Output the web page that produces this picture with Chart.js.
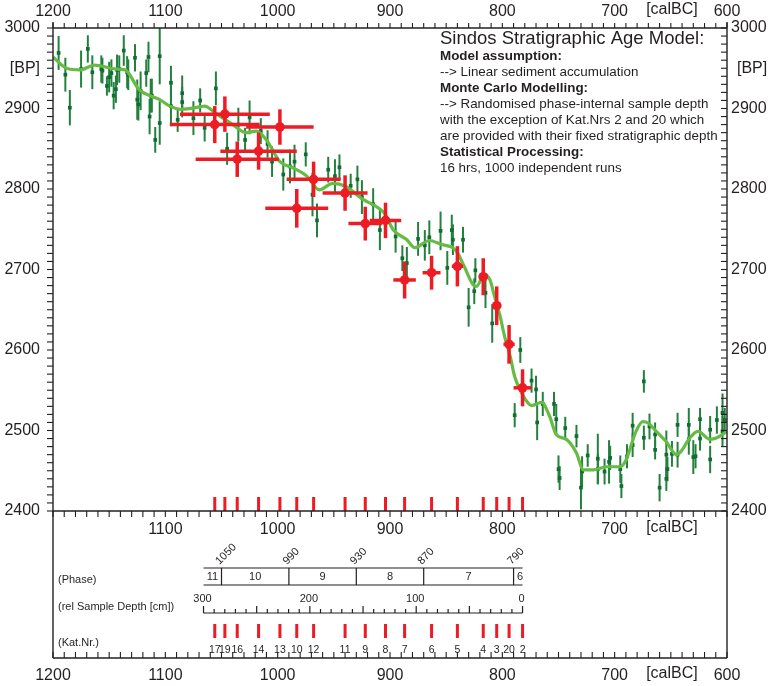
<!DOCTYPE html>
<html>
<head>
<meta charset="utf-8">
<script src="https://cdn.jsdelivr.net/npm/chart.js@4"></script>
<style>
  body { margin: 0; background: #fff; }
  canvas { display: block; }
</style>
</head>
<body>
<canvas id="ageChart" width="770" height="686"></canvas>
<script>
// Radiocarbon samples (green): calBC year, BP value, 1-sigma BP
const greenYears = [1195, 1189, 1185, 1175, 1169, 1165, 1157, 1156, 1152, 1150,
  1148, 1146, 1144, 1143, 1141, 1137, 1134, 1133, 1127, 1125,
  1124, 1122, 1117, 1115, 1114, 1113, 1112, 1109, 1105, 1105,
  1095, 1095, 1089, 1085, 1085, 1075, 1069, 1065, 1055, 1045,
  1035, 1029, 1025, 1015, 1009, 1005, 995, 989, 985, 975,
  969, 965, 955, 949, 945, 935, 929, 925, 915, 909,
  895, 889, 885, 875, 869, 865, 855, 849, 845, 844,
  835, 830, 825, 824, 815, 809, 789, 784, 774, 770,
  769, 764, 754, 752, 750, 749, 744, 734, 730, 729,
  724, 715, 715, 709, 705, 704, 694, 695, 689, 684,
  684, 674, 674, 669, 664, 664, 660, 654, 654, 653,
  649, 644, 644, 634, 634, 630, 628, 624, 624, 615,
  615, 609, 604, 604, 602];
const greenBP = [2969, 2942, 2901, 2949, 2974, 2945, 2949, 2947, 2928, 2939,
  2944, 2916, 2924, 2948, 2949, 2972, 2945, 2942, 2963, 2911,
  2905, 2922, 2944, 2964, 2890, 2916, 2916, 2861, 2965, 2882,
  2932, 2903, 2886, 2919, 2908, 2888, 2910, 2876, 2925, 2850,
  2880, 2861, 2889, 2872, 2856, 2834, 2818, 2828, 2834, 2843,
  2793, 2761, 2824, 2816, 2827, 2804, 2812, 2790, 2781, 2749,
  2741, 2714, 2708, 2738, 2730, 2740, 2748, 2702, 2749, 2737,
  2737, 2653, 2673, 2699, 2671, 2633, 2519, 2600, 2562, 2551,
  2510, 2533, 2533, 2514, 2452, 2441, 2503, 2493, 2429, 2449,
  2469, 2465, 2452, 2449, 2461, 2466, 2431, 2452, 2468, 2506,
  2482, 2561, 2491, 2505, 2495, 2476, 2429, 2470, 2440, 2452,
  2471, 2507, 2470, 2507, 2489, 2467, 2468, 2514, 2490, 2501,
  2464, 2513, 2522, 2499, 2513];
const greenErr = [21, 21, 22, 23, 17, 21, 17, 16, 12, 19,
  17, 17, 17, 19, 17, 19, 20, 19, 17, 25,
  20, 24, 17, 19, 22, 21, 21, 16, 35, 27,
  21, 25, 15, 22, 19, 21, 15, 17, 21, 20,
  21, 15, 21, 16, 17, 19, 20, 21, 21, 15,
  27, 21, 16, 21, 16, 15, 17, 21, 20, 25,
  20, 16, 20, 21, 19, 21, 24, 21, 19, 19,
  16, 24, 16, 15, 19, 24, 15, 16, 15, 17,
  22, 15, 15, 19, 17, 15, 14, 14, 27, 19,
  14, 31, 19, 16, 27, 15, 15, 17, 15, 16,
  15, 14, 15, 16, 15, 12, 17, 30, 15, 15,
  16, 15, 16, 21, 19, 21, 15, 14, 15, 17,
  17, 17, 24, 19, 15];

// Age model curve (light green)
const curveYears = [1200, 1188, 1176, 1163, 1144, 1136, 1123, 1112, 1105, 1096,
  1086, 1069, 1065, 1055, 1040, 1028, 1019, 1010, 998, 986,
  974, 963, 951, 939, 924, 912, 905, 897, 885, 878,
  865, 854, 844, 840, 834, 826, 823, 816, 811, 807,
  802, 798, 793, 789, 783, 777, 774, 765, 758, 752,
  743, 734, 728, 719, 707, 695, 690, 681, 675, 670,
  663, 654, 645, 641, 633, 626, 615, 609, 600];
const curveBP = [2964, 2950, 2948, 2954, 2949, 2948, 2923, 2915, 2911, 2903,
  2899, 2902, 2903, 2894, 2880, 2870, 2872, 2861, 2834, 2826,
  2816, 2799, 2807, 2803, 2787, 2778, 2770, 2749, 2737, 2727,
  2736, 2731, 2727, 2721, 2704, 2681, 2679, 2694, 2687, 2667,
  2642, 2617, 2592, 2567, 2547, 2534, 2531, 2535, 2518, 2495,
  2489, 2472, 2451, 2451, 2455, 2455, 2463, 2499, 2511, 2509,
  2499, 2486, 2470, 2474, 2491, 2499, 2489, 2491, 2499];

// Kat. samples (red)
const katYears = [1056, 1047, 1036, 1017, 998, 983, 968, 940, 922, 904, 887, 863, 840, 817, 805, 794, 782];
const katLabels = ['17', '19', '16', '14', '13', '10', '12', '11', '9', '8', '7', '6', '5', '4', '3', '20', '2'];
const redBP = [2880, 2893, 2837, 2847, 2877, 2776, 2812, 2795, 2757, 2761, 2687, 2696, 2704, 2691, 2655, 2607, 2553];
const redBPErr = [23, 22, 22, 23, 22, 24, 22, 22, 21, 22, 23, 21, 25, 23, 24, 24, 23];
const redYearErr = [40, 40, 37, 34, 30, 28, 24, 20, 15, 14, 10, 8, 5, 4, 4, 5, 8];

// axes and lower panel
const xTickLabels = [1200, 1100, 1000, 900, 800, 700, 600];
const yTickLabels = [3000, 2900, 2800, 2700, 2600, 2500, 2400];
const phaseNames = ['11', '10', '9', '8', '7', '6'];
const phaseBounds = [1066, 1050, 990, 930, 870, 790, 782];
const depthLabels = [300, 200, 100, 0];

const noteLines = [
  ['Model assumption:', true],
  ['--> Linear sediment accumulation', false],
  ['Monte Carlo Modelling:', true],
  ['--> Randomised phase-internal sample depth', false],
  ['with the exception of Kat.Nrs 2 and 20 which', false],
  ['are provided with their fixed stratigraphic depth', false],
  ['Statistical Processing:', true],
  ['16 hrs, 1000 independent runs', false]
];

const FONT = '"Liberation Sans", Arial, sans-serif';
const AXIS = '#231f20';
const RED = '#ed1c24';
const DARK_GREEN = '#0f6e32';
const BAR_GREEN = '#24803f';
const LIGHT_GREEN = '#66bb44';

// draws x/y error bars of a dataset just before its points
const errorBarPlugin = {
  id: 'errorBars',
  beforeDatasetDraw(chart, args) {
    const ds = chart.data.datasets[args.index];
    if (!ds.yErr) return;
    const xs = chart.scales.x, ys = chart.scales.y;
    const ctx = chart.ctx;
    ctx.save();
    ctx.strokeStyle = ds.errColor;
    ds.data.forEach((p, i) => {
      const px = xs.getPixelForValue(p.x), py = ys.getPixelForValue(p.y);
      if (ds.xErr) {
        ctx.lineWidth = ds.xErrWidth;
        ctx.beginPath();
        ctx.moveTo(xs.getPixelForValue(p.x + ds.xErr[i]), py);
        ctx.lineTo(xs.getPixelForValue(p.x - ds.xErr[i]), py);
        ctx.stroke();
      }
      ctx.lineWidth = ds.yErrWidth;
      ctx.beginPath();
      ctx.moveTo(px, ys.getPixelForValue(p.y + ds.yErr[i]));
      ctx.lineTo(px, ys.getPixelForValue(p.y - ds.yErr[i]));
      ctx.stroke();
    });
    ctx.restore();
  }
};

// frame, ticks, labels, text block and the lower panel
const framePlugin = {
  id: 'frame',
  afterDraw(chart) {
    const ctx = chart.ctx;
    const xs = chart.scales.x, ys = chart.scales.y;
    const { left, right, top, bottom } = chart.chartArea;
    const base = 658;
    const X = v => xs.getPixelForValue(v);
    const Y = v => ys.getPixelForValue(v);
    const line = (x1, y1, x2, y2) => {
      ctx.beginPath(); ctx.moveTo(x1, y1); ctx.lineTo(x2, y2); ctx.stroke();
    };
    const text = (s, x, y, font, align) => {
      ctx.font = font; ctx.textAlign = align || 'center'; ctx.fillText(s, x, y);
    };

    ctx.save();
    // red sample markers on the bottom of the plot and in the panel
    ctx.fillStyle = RED;
    katYears.forEach(k => {
      ctx.fillRect(X(k) - 1.5, bottom - 14, 3, 14);
      ctx.fillRect(X(k) - 1.5, 624, 3, 14);
    });

    ctx.strokeStyle = AXIS;
    ctx.fillStyle = AXIS;
    ctx.lineWidth = 1.4;
    line(left, top - 6, left, base);
    line(right, top - 6, right, base);
    line(left, top, right, top);
    line(left, bottom, right, bottom);
    line(left, base, right, base);

    ctx.lineWidth = 1.1;
    for (let yr = 600; yr <= 1200; yr += 10) {
      const px = X(yr);
      line(px, top, px, top - 5);
      line(px, bottom, px, bottom + 6);
      line(px, base, px, base - 6);
    }
    for (let bp = 2400; bp <= 3000; bp += 10) {
      const py = Y(bp);
      line(left, py, left - 6, py);
      line(right, py, right - 6, py);
    }

    ctx.textBaseline = 'middle';
    const tickFont = '16px ' + FONT;
    xTickLabels.forEach(v => {
      text(String(v), X(v), 12, tickFont);
      text(String(v), X(v), 676, tickFont);
      if (v !== 1200 && v !== 600) text(String(v), X(v), 530, tickFont);
    });
    text('[calBC]', X(649), 10, tickFont);
    text('[calBC]', X(649), 528, tickFont);
    text('[calBC]', X(649), 674, tickFont);

    yTickLabels.forEach(v => {
      text(String(v), left - 13, Y(v), tickFont, 'right');
      text(String(v), right + 4, Y(v), tickFont, 'left');
    });
    text('[BP]', left - 13, Y(2950), tickFont, 'right');
    text('[BP]', right + 10, Y(2950), tickFont, 'left');

    // text block
    text('Sindos Stratigraphic Age Model:', 440, 39, '18.5px ' + FONT, 'left');
    noteLines.forEach((ln, i) => {
      text(ln[0], 440, 56.7 + i * 16, (ln[1] ? 'bold ' : '') + '13.4px ' + FONT, 'left');
    });

    // lower panel
    const small = '11px ' + FONT;
    text('(Phase)', 58, 580, small, 'left');
    text('(rel Sample Depth [cm])', 58, 607, small, 'left');
    text('(Kat.Nr.)', 58, 643, small, 'left');

    ctx.lineWidth = 1.2;
    const p0 = X(phaseBounds[0]), p1 = X(phaseBounds[phaseBounds.length - 1]);
    line(p0, 568, p1, 568);
    line(p0, 585, p1, 585);
    phaseBounds.slice(1, -1).forEach(b => {
      line(X(b), 568, X(b), 585);
      ctx.save();
      ctx.translate(X(b) - 2, 565);
      ctx.rotate(-Math.PI / 4);
      ctx.font = small; ctx.textAlign = 'left'; ctx.textBaseline = 'alphabetic';
      ctx.fillText(String(b), 0, 0);
      ctx.restore();
    });
    phaseNames.forEach((n, i) => {
      const cx = (X(phaseBounds[i]) + X(phaseBounds[i + 1])) / 2;
      text(n, i === phaseNames.length - 1 ? cx + 2 : cx, 577, small);
    });

    // depth axis: 300 cm at the first phase bound, 0 cm at the last
    const D = d => p1 + (p0 - p1) * d / 300;
    line(p0, 613, p1, 613);
    for (let d = 0; d <= 300; d += 10) {
      line(D(d), 613, D(d), d % 50 === 0 ? 606 : 609);
    }
    depthLabels.forEach(d => text(String(d), D(d) - 1, 599, small));

    katYears.forEach((k, i) => text(katLabels[i], X(k), 650, '10.5px ' + FONT));
    ctx.restore();
  }
};

const ctx = document.getElementById('ageChart').getContext('2d');
const ageChart = new Chart(ctx, {
    type: 'scatter',
    data: {
        datasets: [{
            label: 'Samples',
            data: greenYears.map((yr, i) => ({ x: yr, y: greenBP[i] })),
            yErr: greenErr,
            errColor: BAR_GREEN,
            yErrWidth: 2,
            pointStyle: 'rect',
            pointRadius: 2.6,
            backgroundColor: DARK_GREEN,
            borderWidth: 0,
            order: 3
        }, {
            label: 'Age model',
            data: curveYears.map((yr, i) => ({ x: yr, y: curveBP[i] })),
            showLine: true,
            borderColor: LIGHT_GREEN,
            borderWidth: 3.2,
            pointRadius: 0,
            cubicInterpolationMode: 'monotone',
            order: 2
        }, {
            label: 'Kat.Nr.',
            data: katYears.map((yr, i) => ({ x: yr, y: redBP[i] })),
            yErr: redBPErr,
            xErr: redYearErr,
            errColor: RED,
            yErrWidth: 3.5,
            xErrWidth: 3.5,
            pointRadius: 4.8,
            backgroundColor: RED,
            borderWidth: 0,
            order: 1
        }]
    },
    options: {
        responsive: false,
        animation: false,
        events: [],
        layout: { padding: { left: 53, top: 28, right: 43, bottom: 175 } },
        scales: {
            x: { type: 'linear', reverse: true, min: 600, max: 1200, display: false },
            y: { type: 'linear', min: 2400, max: 3000, display: false }
        },
        plugins: { legend: { display: false }, tooltip: { enabled: false } }
    },
    plugins: [errorBarPlugin, framePlugin]
});
</script>
</body>
</html>
